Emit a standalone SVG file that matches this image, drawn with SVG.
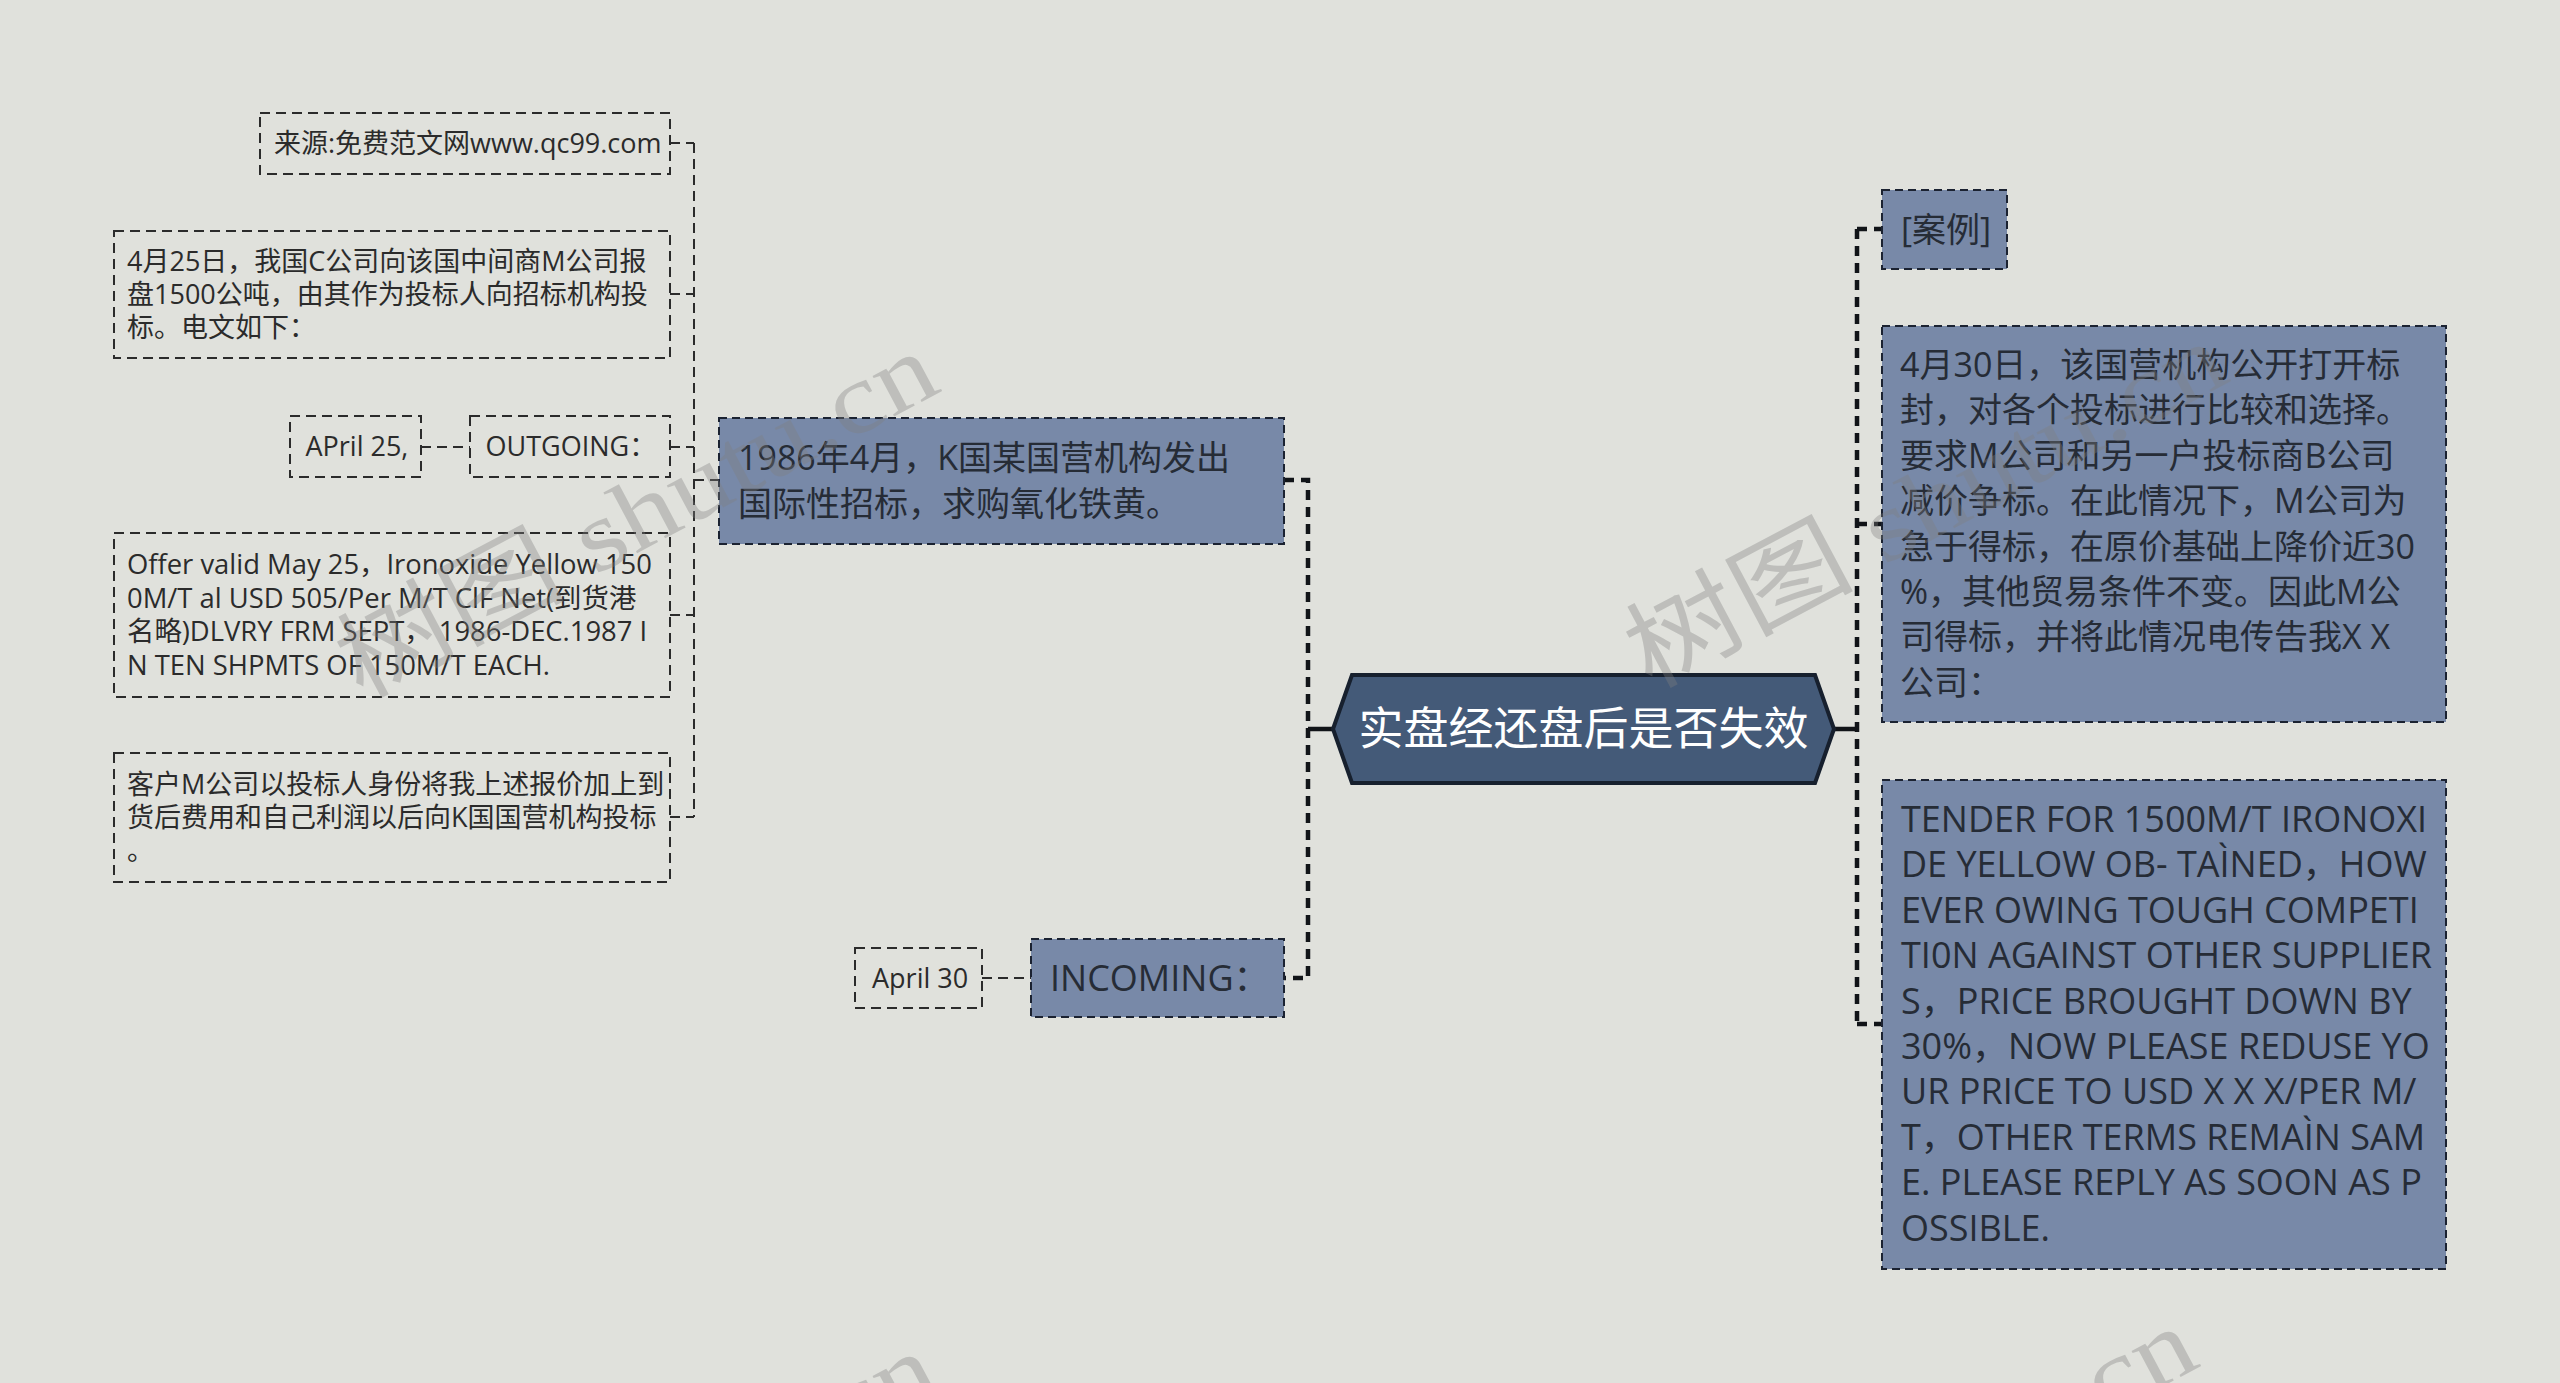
<svg xmlns="http://www.w3.org/2000/svg" width="2560" height="1383" viewBox="0 0 2560 1383">
<style>
.plain{fill:none;stroke:#2b2b2b;stroke-width:2;stroke-dasharray:10 6}
.blue{fill:#7889a8;stroke:#1b2231;stroke-width:2;stroke-dasharray:8 5}
.ts{font-family:"Open Sans","Noto Sans CJK SC",sans-serif;font-size:27px;fill:#2b2b2b}
.tl{font-family:"Open Sans","Noto Sans CJK SC",sans-serif;font-size:34px;fill:#262c36}
.tlat{font-size:36px}
.title{font-family:"Open Sans","Noto Sans CJK SC",sans-serif;font-size:45px;fill:#ffffff}
.thin{fill:none;stroke:#2b2b2b;stroke-width:2;stroke-dasharray:10 6}
.thick{fill:none;stroke:#111418;stroke-width:4.5;stroke-dasharray:10 7}
.solid{fill:none;stroke:#111418;stroke-width:4.5}
.wm{font-family:"Liberation Serif","Noto Sans CJK SC",serif;font-size:100px;fill:#808080;opacity:0.35}
</style>
<rect x="0" y="0" width="2560" height="1383" fill="#e0e1dc"/>

<g id="connectors">
  <path class="thin" d="M694,143 V817 M670,143 H694 M670,294 H694 M670,447 H694 M670,615 H694 M670,817 H694 M694,480 H719 M421,447 H470 M982,978 H1031"/>
  <path class="thick" d="M1284,480 H1308 V978 H1284"/>
  <path class="thick" d="M1857,229 V1024 M1857,229 H1882 M1857,524 H1882 M1857,1024 H1882"/>
  <path class="solid" d="M1333,729 H1308 M1834,729 H1857"/>
</g>

<g id="root">
  <polygon points="1333,729 1352,675 1815,675 1834,729 1815,783 1352,783" fill="#445a78" stroke="#17202e" stroke-width="4"/>
  <text class="title" x="1583.5" y="745" text-anchor="middle">实盘经还盘后是否失效</text>
</g>

<g id="n1986">
  <rect class="blue" x="719" y="418" width="565" height="126"/>
  <text class="tl" x="738" y="470">1986年4月，K国某国营机构发出</text>
  <text class="tl" x="738" y="515.5">国际性招标，求购氧化铁黄。</text>
</g>

<g id="nSource">
  <rect class="plain" x="260" y="113" width="410" height="61"/>
  <text class="ts" x="274" y="153">来源:免费范文网www.qc99.com</text>
</g>

<g id="n0425">
  <rect class="plain" x="114" y="231" width="556" height="127"/>
  <text class="ts" x="127" y="271">4月25日，我国C公司向该国中间商M公司报</text>
  <text class="ts" x="127" y="304">盘1500公吨，由其作为投标人向招标机构投</text>
  <text class="ts" x="127" y="337">标。电文如下：</text>
</g>

<g id="nOutgoing">
  <rect class="plain" x="470" y="416" width="200" height="61"/>
  <text class="ts" x="485.5" y="456">OUTGOING：</text>
</g>

<g id="nApril25">
  <rect class="plain" x="290" y="416" width="131" height="61"/>
  <text class="ts" x="305.5" y="456">APril 25,</text>
</g>

<g id="nOffer">
  <rect class="plain" x="114" y="533" width="556" height="164"/>
  <text class="ts" x="127" y="574" style="font-size:27.4px">Offer valid May 25，Ironoxide Yellow 150</text>
  <text class="ts" x="127" y="607.5" style="font-size:27.4px">0M/T al USD 505/Per M/T ClF Net(到货港</text>
  <text class="ts" x="127" y="641" style="font-size:27.4px">名略)DLVRY FRM SEPT，&#160;1986-DEC.1987 I</text>
  <text class="ts" x="127" y="674.5" style="font-size:27.4px">N TEN SHPMTS OF 150M/T EACH.</text>
</g>

<g id="nClient">
  <rect class="plain" x="114" y="753" width="556" height="129"/>
  <text class="ts" x="127" y="793.5">客户M公司以投标人身份将我上述报价加上到</text>
  <text class="ts" x="127" y="826.5">货后费用和自己利润以后向K国国营机构投标</text>
  <text class="ts" x="127" y="859.5">。</text>
</g>

<g id="nIncoming">
  <rect class="blue" x="1031" y="939" width="253" height="78"/>
  <text class="tl tlat" x="1050" y="991">INCOMING：</text>
</g>

<g id="nApril30">
  <rect class="plain" x="855" y="948" width="127" height="60"/>
  <text class="ts" x="872" y="987.5">April 30</text>
</g>

<g id="nCase">
  <rect class="blue" x="1882" y="190" width="125" height="79"/>
  <text class="tl" x="1901" y="242">[案例]</text>
</g>

<g id="n0430">
  <rect class="blue" x="1882" y="326" width="564" height="396"/>
  <text class="tl" x="1900" y="377">4月30日，该国营机构公开打开标</text>
  <text class="tl" x="1900" y="422.4">封，对各个投标进行比较和选择。</text>
  <text class="tl" x="1900" y="467.8">要求M公司和另一户投标商B公司</text>
  <text class="tl" x="1900" y="513.2">减价争标。在此情况下，M公司为</text>
  <text class="tl" x="1900" y="558.6">急于得标，在原价基础上降价近30</text>
  <text class="tl" x="1900" y="604">%，其他贸易条件不变。因此M公</text>
  <text class="tl" x="1900" y="649.4">司得标，并将此情况电传告我X X</text>
  <text class="tl" x="1900" y="694.8">公司：</text>
</g>

<g id="nTender">
  <rect class="blue" x="1882" y="780" width="564" height="489"/>
  <text class="tl tlat" x="1901" y="832">TENDER FOR 1500M/T IRONOXI</text>
  <text class="tl tlat" x="1901" y="877.4">DE YELLOW OB- TAÌNED，HOW</text>
  <text class="tl tlat" x="1901" y="922.8">EVER OWING TOUGH COMPETI</text>
  <text class="tl tlat" x="1901" y="968.2">TI0N AGAINST OTHER SUPPLIER</text>
  <text class="tl tlat" x="1901" y="1013.6">S，PRICE BROUGHT DOWN BY</text>
  <text class="tl tlat" x="1901" y="1059">30%，NOW PLEASE REDUSE YO</text>
  <text class="tl tlat" x="1901" y="1104.4">UR PRICE TO USD X X X/PER M/</text>
  <text class="tl tlat" x="1901" y="1149.8">T，OTHER TERMS REMAÌN SAM</text>
  <text class="tl tlat" x="1901" y="1195.2">E. PLEASE REPLY AS SOON AS P</text>
  <text class="tl tlat" x="1901" y="1240.6">OSSIBLE.</text>
</g>

<g id="watermarks">
  <text class="wm" transform="translate(361,700) rotate(-28)" textLength="660" lengthAdjust="spacingAndGlyphs">树图 shutu.cn</text>
  <text class="wm" transform="translate(1650,690) rotate(-28)" textLength="660" lengthAdjust="spacingAndGlyphs">树图 shutu.cn</text>
  <text class="wm" transform="translate(361,1700) rotate(-28)" textLength="660" lengthAdjust="spacingAndGlyphs">树图 shutu.cn</text>
  <text class="wm" transform="translate(1620,1675) rotate(-28)" textLength="660" lengthAdjust="spacingAndGlyphs">树图 shutu.cn</text>
</g>
</svg>
